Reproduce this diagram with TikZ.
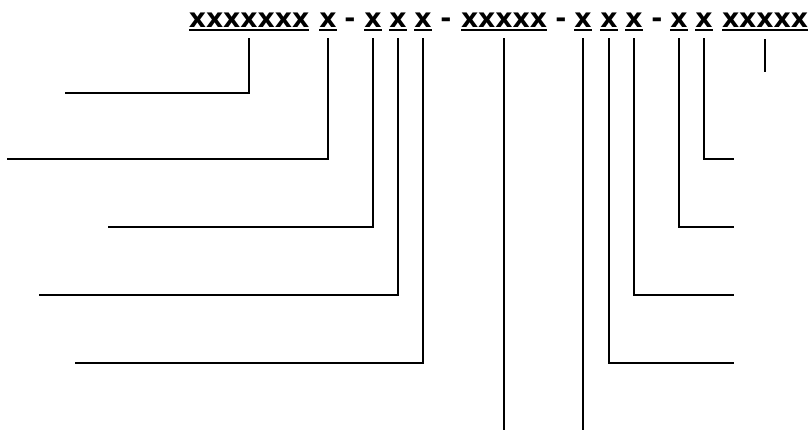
\documentclass[tikz,border=0pt]{standalone}
\usepackage{fontspec}
\setmainfont{DejaVu Sans}
\usetikzlibrary{positioning, calc}

% underlined code field (thick rule just under the baseline)
\newcommand{\codefield}[1]{\vtop{\hbox{#1}\kern1.5pt\hrule height 1.6pt}}

\tikzset{
  field/.style={
    anchor=base, inner sep=0pt, outer sep=0pt,
    font=\bfseries\fontsize{20}{24}\selectfont, text=black
  },
  fieldsep/.style={
    anchor=base, inner sep=0pt, outer sep=0pt,
    font=\bfseries\fontsize{20}{24}\selectfont, text=black
  },
  leader/.style={
    draw=black, line width=1.6pt, line cap=butt, line join=miter
  },
}

\begin{document}
\begin{tikzpicture}[x=0.75pt, y=-0.75pt]
\useasboundingbox (0,0) rectangle (810,430);

% ---- Code line -----------------------------------------------------
% baseline at y=27, every field centred over its leader line
\node[field]    (f1)  at (249, 27) {\codefield{xxxxxxx}};
\node[field]    (f2)  at (328, 27) {\codefield{x}};
\node[fieldsep] (d1)  at (350, 27) {-};
\node[field]    (f3)  at (373, 27) {\codefield{x}};
\node[field]    (f4)  at (398, 27) {\codefield{x}};
\node[field]    (f5)  at (423, 27) {\codefield{x}};
\node[fieldsep] (d2)  at (446, 27) {-};
\node[field]    (f6)  at (504, 27) {\codefield{xxxxx}};
\node[fieldsep] (d3)  at (561, 27) {-};
\node[field]    (f7)  at (583, 27) {\codefield{x}};
\node[field]    (f8)  at (609, 27) {\codefield{x}};
\node[field]    (f9)  at (634, 27) {\codefield{x}};
\node[fieldsep] (d4)  at (657, 27) {-};
\node[field]    (f10) at (679, 27) {\codefield{x}};
\node[field]    (f11) at (704, 27) {\codefield{x}};
\node[field]    (f12) at (765, 27) {\codefield{xxxxx}};

% ---- Leader ends ---------------------------------------------------
% left side
\coordinate (e1) at ( 65,  93);
\coordinate (e2) at (  7, 159);
\coordinate (e3) at (108, 227);
\coordinate (e4) at ( 39, 295);
\coordinate (e5) at ( 75, 363);
% bottom
\coordinate (e6) at (504, 430);
\coordinate (e7) at (583, 430);
% right side
\coordinate (e8)  at (734, 363);
\coordinate (e9)  at (734, 295);
\coordinate (e10) at (734, 227);
\coordinate (e11) at (734, 159);
% short tick
\coordinate (e12) at (765, 72);

% ---- Leaders -------------------------------------------------------
% left group: down, then out to the left
\draw[leader] (f1  |- 0,38) |- (e1);
\draw[leader] (f2  |- 0,38) |- (e2);
\draw[leader] (f3  |- 0,38) |- (e3);
\draw[leader] (f4  |- 0,38) |- (e4);
\draw[leader] (f5  |- 0,38) |- (e5);

% middle: straight down to the bottom edge
\draw[leader] (f6  |- 0,38) -- (e6);
\draw[leader] (f7  |- 0,38) -- (e7);

% right group: down, then out to the right
\draw[leader] (f8  |- 0,38) |- (e8);
\draw[leader] (f9  |- 0,38) |- (e9);
\draw[leader] (f10 |- 0,38) |- (e10);
\draw[leader] (f11 |- 0,38) |- (e11);

% last field: short tick only
\draw[leader] (f12 |- 0,39) -- (e12);

\end{tikzpicture}
\end{document}
